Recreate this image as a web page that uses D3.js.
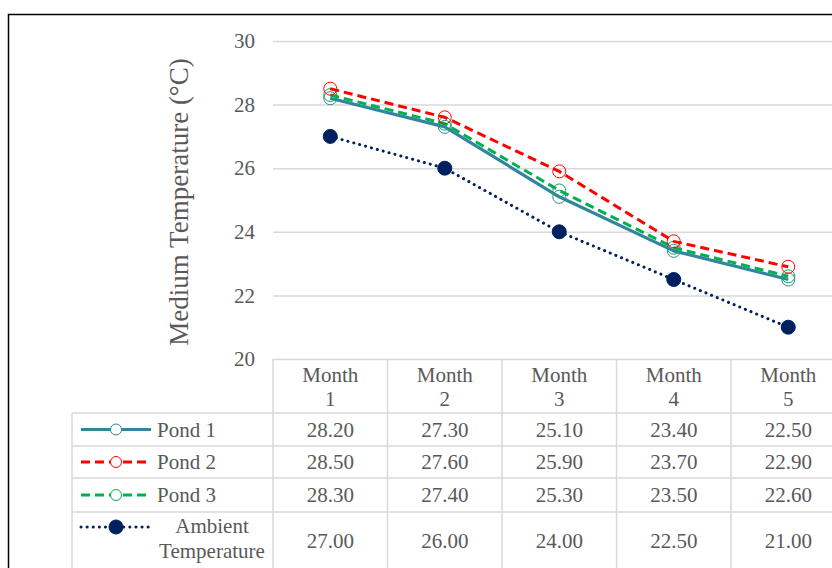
<!DOCTYPE html>
<html>
<head>
<meta charset="utf-8">
<script src="https://cdn.jsdelivr.net/npm/d3@7/dist/d3.min.js"></script>
<style>
  html, body { margin: 0; padding: 0; background: #fff; }
  svg { display: block; }
</style>
</head>
<body>
<svg id="chart" width="832" height="568"></svg>
<script>
// Monthly medium temperatures (°C)
const months = ["Month 1", "Month 2", "Month 3", "Month 4", "Month 5"];
const pond1 = [28.2, 27.3, 25.1, 23.4, 22.5];
const pond2 = [28.5, 27.6, 25.9, 23.7, 22.9];
const pond3 = [28.3, 27.4, 25.3, 23.5, 22.6];
const ambient = [27.0, 26.0, 24.0, 22.5, 21.0];
const seriesNames = ["Pond 1", "Pond 2", "Pond 3", "Ambient Temperature"];
const yTicks = [20, 22, 24, 26, 28, 30];

const series = [
  { name: seriesNames[0], values: pond1, color: "#31859C", dash: null, width: 3.2, filled: false },
  { name: seriesNames[1], values: pond2, color: "#FF0000", dash: "9,5", width: 3, filled: false },
  { name: seriesNames[2], values: pond3, color: "#00B050", dash: "9,5", width: 3, filled: false },
  { name: seriesNames[3], values: ambient, color: "#002060", dash: "0.1,6", width: 3, filled: true }
];

const svg = d3.select("#chart");
const font = "'Liberation Serif', 'Times New Roman', serif";
const textColor = "#595959";
const gridColor = "#D9D9D9";
const fs = "21px";

// Plot frame
const plotLeft = 273, plotTop = 41, plotBottom = 359;
const bandW = 114.5;
const x = d3.scaleBand().domain(months).range([plotLeft, plotLeft + bandW * months.length]).padding(0);
const y = d3.scaleLinear().domain([20, 30]).range([plotBottom, plotTop]);

// Outer chart border
svg.append("rect")
  .attr("x", 8.5).attr("y", 14.5)
  .attr("width", 900).attr("height", 700)
  .attr("fill", "none").attr("stroke", "#000").attr("stroke-width", 1.5);

// Gridlines and y tick labels
const yAxis = d3.axisLeft(y).tickValues(yTicks).tickSize(-(x.range()[1] - plotLeft)).tickPadding(18);
const gy = svg.append("g").attr("transform", `translate(${plotLeft},0)`).call(yAxis);
gy.select(".domain").remove();
gy.selectAll(".tick line").attr("stroke", gridColor).attr("stroke-width", 1.5);
gy.selectAll(".tick text")
  .attr("fill", textColor).style("font-family", font).style("font-size", fs);

// Y axis title
svg.append("text")
  .attr("transform", `translate(188,${(plotTop + plotBottom) / 2 + 2}) rotate(-90)`)
  .attr("text-anchor", "middle")
  .attr("fill", textColor)
  .style("font-family", font).style("font-size", "27px")
  .text("Medium Temperature (°C)");

// Data table
const rowTops = [359, 413, 446, 478, 512, 570];
const tableLeft = 72;
const tableRight = x.range()[1];
const tg = svg.append("g");

// horizontal table rules
rowTops.slice(1).forEach(ry => {
  tg.append("line")
    .attr("x1", tableLeft).attr("x2", tableRight)
    .attr("y1", ry).attr("y2", ry)
    .attr("stroke", gridColor).attr("stroke-width", 1.5);
});
// vertical table rules (column boundaries)
months.forEach(m => {
  const cx = x(m);
  tg.append("line")
    .attr("x1", cx).attr("x2", cx)
    .attr("y1", plotBottom).attr("y2", 568)
    .attr("stroke", gridColor).attr("stroke-width", 1.5);
});
tg.append("line")
  .attr("x1", tableRight).attr("x2", tableRight)
  .attr("y1", plotBottom).attr("y2", 568)
  .attr("stroke", gridColor).attr("stroke-width", 1.5);
tg.append("line")
  .attr("x1", tableLeft).attr("x2", tableLeft)
  .attr("y1", rowTops[1]).attr("y2", 568)
  .attr("stroke", gridColor).attr("stroke-width", 1.5);

// header labels
months.forEach(m => {
  const parts = m.split(" ");
  const cx = x(m) + x.bandwidth() / 2;
  const t = tg.append("text")
    .attr("text-anchor", "middle")
    .attr("fill", textColor)
    .style("font-family", font).style("font-size", fs);
  t.append("tspan").attr("x", cx).attr("y", 382).text(parts[0]);
  t.append("tspan").attr("x", cx).attr("y", 406).text(parts[1]);
});

// value rows with legend keys
series.forEach((s, i) => {
  const r0 = rowTops[i + 1], r1 = rowTops[i + 2];
  const cy = (r0 + r1) / 2;
  s.values.forEach((v, j) => {
    tg.append("text")
      .attr("x", x(months[j]) + x.bandwidth() / 2)
      .attr("y", cy + 7)
      .attr("text-anchor", "middle")
      .attr("fill", textColor)
      .style("font-family", font).style("font-size", fs)
      .text(v.toFixed(2));
  });

  const keyY = i < 3 ? cy : r0 + 15;
  const key = tg.append("g");
  key.append("line")
    .attr("x1", 81).attr("x2", 151)
    .attr("y1", keyY).attr("y2", keyY)
    .attr("stroke", s.color).attr("stroke-width", s.width)
    .attr("stroke-dasharray", s.dash)
    .attr("stroke-linecap", s.filled ? "round" : "butt");
  key.append("circle")
    .attr("cx", 116).attr("cy", keyY)
    .attr("r", s.filled ? 7 : 5.5)
    .attr("fill", s.filled ? s.color : "#fff")
    .attr("stroke", s.color).attr("stroke-width", 1);

  if (i < 3) {
    tg.append("text")
      .attr("x", 157).attr("y", cy + 7)
      .attr("fill", textColor)
      .style("font-family", font).style("font-size", fs)
      .text(s.name);
  } else {
    const parts = s.name.split(" ");
    const t = tg.append("text")
      .attr("text-anchor", "middle")
      .attr("fill", textColor)
      .style("font-family", font).style("font-size", fs);
    t.append("tspan").attr("x", 212).attr("y", 533).text(parts[0]);
    t.append("tspan").attr("x", 212).attr("y", 558).text(parts[1]);
  }
});

// Series lines and markers
const line = d3.line()
  .x((d, i) => x(months[i]) + x.bandwidth() / 2)
  .y(d => y(d));

const plot = svg.append("g");
// ambient first, then the ponds on top
[3, 0, 2, 1].forEach(k => {
  const s = series[k];
  plot.append("path")
    .datum(s.values)
    .attr("d", line)
    .attr("fill", "none")
    .attr("stroke", s.color)
    .attr("stroke-width", s.width)
    .attr("stroke-dasharray", s.dash)
    .attr("stroke-linecap", s.filled ? "round" : "butt")
    .attr("stroke-linejoin", "round");
  plot.selectAll(null)
    .data(s.values)
    .enter().append("circle")
    .attr("cx", (d, i) => x(months[i]) + x.bandwidth() / 2)
    .attr("cy", d => y(d))
    .attr("r", s.filled ? 7 : 6.5)
    .attr("fill", s.filled ? s.color : "none")
    .attr("stroke", s.color)
    .attr("stroke-width", 1);
});
</script>
</body>
</html>
